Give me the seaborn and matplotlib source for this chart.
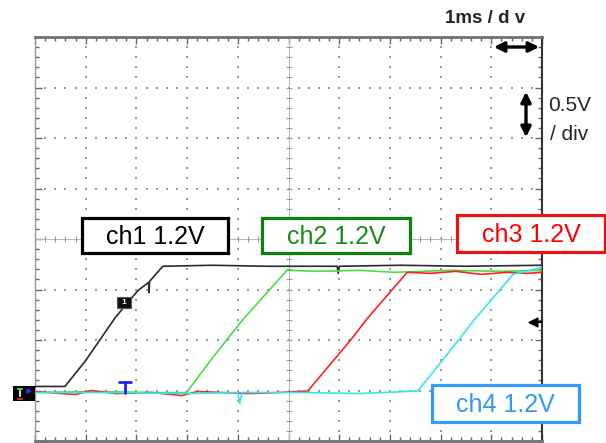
import numpy as np
import pandas as pd
import matplotlib
matplotlib.use("Agg")
import matplotlib.pyplot as plt
from matplotlib.patches import Rectangle
import seaborn as sns

# %% Trace data (time in ms, level in V)
ch1_t = [0.0, 0.59, 0.99, 1.58, 2.03, 2.24, 2.25, 2.26, 2.52, 3.5, 4.6, 5.96, 5.98, 6.0, 7.2, 8.5, 10.0]
ch1_v = [0.04, 0.04, 0.29, 0.72, 0.99, 1.07, 0.97, 1.08, 1.23, 1.24, 1.23, 1.23, 1.16, 1.23, 1.24, 1.23, 1.24]

ch2_t = [0.0, 1.2, 2.4, 2.99, 3.45, 4.08, 4.97, 5.6, 6.4, 7.1, 8.2, 9.2, 10.0]
ch2_v = [-0.02, -0.01, -0.02, -0.02, 0.29, 0.69, 1.19, 1.18, 1.19, 1.17, 1.19, 1.18, 1.19]

ch3_t = [0.0, 0.8, 1.1, 1.6, 2.3, 2.9, 3.2, 4.2, 4.8, 5.38, 6.21, 6.55, 7.34, 7.8, 8.3, 8.8, 9.3, 9.7, 10.0]
ch3_v = [-0.01, -0.04, 0.0, -0.03, -0.02, -0.05, -0.01, -0.03, -0.02, -0.005, 0.49, 0.71, 1.17, 1.16, 1.18, 1.15, 1.17, 1.16, 1.17]

ch4_t = [0.0, 1.5, 3.0, 4.0, 4.04, 4.08, 5.2, 6.4, 7.55, 8.34, 8.68, 9.43, 10.0]
ch4_v = [-0.02, -0.02, -0.03, -0.02, -0.13, -0.02, -0.02, -0.03, -0.005, 0.49, 0.71, 1.15, 1.22]

channels = ["ch1", "ch2", "ch3", "ch4"]
trace_colors = ["#2a2a2a", "#44e044", "#ff2020", "#33e6f2"]
labels = ["ch1 1.2V", "ch2 1.2V", "ch3 1.2V", "ch4 1.2V"]
label_colors = ["#000000", "#1a8a1a", "#ff0000", "#3399ee"]
box_colors = ["#000000", "#108010", "#ee1111", "#3399ff"]

df = pd.concat([
    pd.DataFrame({"t": ch1_t, "v": ch1_v, "ch": "ch1"}),
    pd.DataFrame({"t": ch2_t, "v": ch2_v, "ch": "ch2"}),
    pd.DataFrame({"t": ch3_t, "v": ch3_v, "ch": "ch3"}),
    pd.DataFrame({"t": ch4_t, "v": ch4_v, "ch": "ch4"}),
], ignore_index=True)

# %% Figure
sns.set_style("white")
plt.rcParams["font.family"] = ["Liberation Sans", "DejaVu Sans"]

fig = plt.figure(figsize=(6.06, 4.43), dpi=100)
ax = fig.add_axes([35 / 606, 2 / 443, 507 / 606, 404 / 443])

ax.set_xlim(0, 10)
ax.set_ylim(-0.5, 3.5)

# dotted graticule: dots at the minor steps along each division line
minor_x = np.arange(0, 10.01, 0.2)
minor_y = np.arange(-0.5, 3.51, 0.1)
for gx in range(1, 10):
    if gx != 5:
        ax.scatter(np.full(len(minor_y), gx), minor_y, s=2.5, marker="s", color="#9a9a9a", lw=0, zorder=1)
for gy in np.arange(0, 3.01, 0.5):
    if abs(gy - 1.5) > 1e-6:
        ax.scatter(minor_x, np.full(len(minor_x), gy), s=2.5, marker="s", color="#9a9a9a", lw=0, zorder=1)

# centre cross with tick marks
ax.axvline(5, color="#bbbbbb", lw=0.8, zorder=1)
ax.axhline(1.5, color="#bbbbbb", lw=0.8, zorder=1)
ax.scatter(np.full(len(minor_y), 5), minor_y, s=18, marker="_", color="#999999", lw=0.8, zorder=1)
ax.scatter(minor_x, np.full(len(minor_x), 1.5), s=18, marker="|", color="#999999", lw=0.8, zorder=1)

sns.lineplot(data=df, x="t", y="v", hue="ch", hue_order=channels, palette=trace_colors,
             sort=False, estimator=None, legend=False, lw=1.2, ax=ax, zorder=3)

ax.set_xticks(range(0, 11))
ax.set_xticks(minor_x, minor=True)
ax.set_yticks(np.arange(-0.5, 3.51, 0.5))
ax.set_yticks(minor_y, minor=True)
ax.tick_params(which="both", direction="in", top=True, right=True, bottom=True, left=True,
               labelbottom=False, labelleft=False, color="#666666")
ax.tick_params(which="major", length=5, width=1)
ax.tick_params(which="minor", length=3, width=1)
ax.set_xlabel("")
ax.set_ylabel("")
ax.spines["top"].set_color("#707070")
ax.spines["top"].set_linewidth(2)
ax.spines["bottom"].set_color("#707070")
ax.spines["bottom"].set_linewidth(2)
ax.spines["right"].set_color("#333333")
ax.spines["right"].set_linewidth(1.5)
ax.spines["left"].set_color("#999999")
ax.spines["left"].set_linewidth(1)

# %% Overlay in pixel coordinates for the annotations
ov = fig.add_axes([0, 0, 1, 1], zorder=5)
ov.set_xlim(0, 606)
ov.set_ylim(443, 0)
ov.axis("off")
ov.patch.set_alpha(0)

boxes = [(82, 218, 146, 35), (262, 218, 148, 35), (457, 215, 148, 37), (432, 385, 147, 37)]
for (bx, by, bw, bh), lab, tc, bc in zip(boxes, labels, label_colors, box_colors):
    ov.add_patch(Rectangle((bx, by), bw, bh, facecolor="white", edgecolor=bc, lw=2.3))
    ov.text(bx + bw / 2, by + bh / 2 + 1, lab, color=tc, fontsize=18, ha="center", va="center")

ov.text(485, 18, "1ms / d v", fontsize=13.5, fontweight="bold", ha="center", va="center")
ov.text(548, 105, "0.5V", fontsize=15, ha="left", va="center")
ov.text(550, 134, "/ div", fontsize=15, ha="left", va="center")

ov.annotate("", xy=(491, 47), xytext=(542, 47),
            arrowprops=dict(arrowstyle="<|-|>", color="black", lw=2.4, mutation_scale=15))
ov.annotate("", xy=(526, 89), xytext=(526, 140),
            arrowprops=dict(arrowstyle="<|-|>", color="black", lw=2.4, mutation_scale=15))

# channel 1 marker
ov.add_patch(Rectangle((117, 297), 14, 11, facecolor="#111111", edgecolor="#555555", lw=0.8))
ov.text(124, 302.5, "1", color="white", fontsize=6, fontweight="bold", ha="center", va="center")

# trigger position marker
ov.plot([119, 131], [382, 382], color="#2222ee", lw=2)
ov.plot([125, 125], [382, 393], color="#2222ee", lw=2)

# ground markers on the left
ov.add_patch(Rectangle((13, 386), 22, 15, facecolor="black", edgecolor="none"))
ov.plot([18, 22], [389, 389], color="#33dd33", lw=1.5)
ov.plot([20, 20], [391, 396], color="#dddddd", lw=1.5)
ov.plot([18, 22], [399, 399], color="#ee2222", lw=1.5)
ov.annotate("", xy=(35, 391), xytext=(25, 391),
            arrowprops=dict(arrowstyle="-|>", color="#3333ff", lw=1.2, mutation_scale=6))

# trigger level marker on the right
ov.plot([533, 542], [322, 322], color="black", lw=1.5)
ov.scatter([533], [322], marker="<", s=40, color="black")

fig.savefig("out.png", dpi=100)
